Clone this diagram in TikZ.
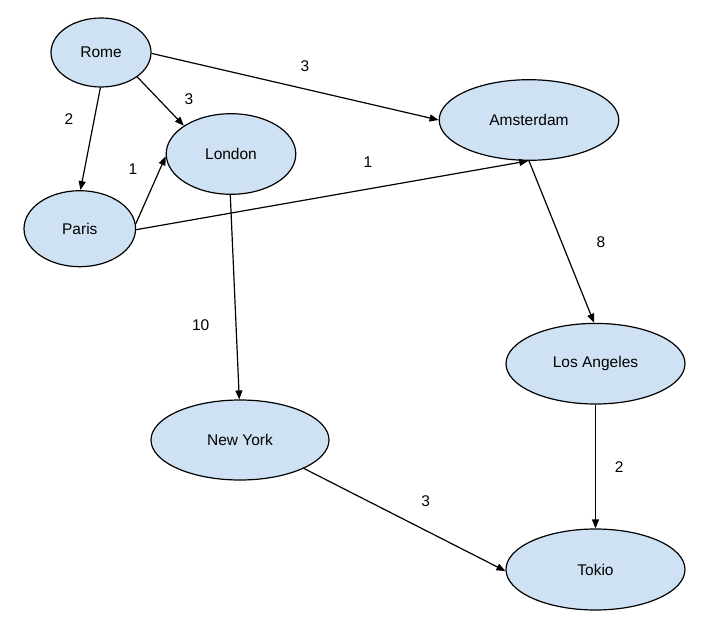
\documentclass[tikz,border=0pt]{standalone}
\usepackage{fontspec}
\setmainfont{Liberation Sans}
\usetikzlibrary{shapes.geometric,arrows.meta}
\definecolor{nodefill}{HTML}{CFE2F3}
\begin{document}
\begin{tikzpicture}[x=1pt,y=-1pt,
  city/.style={ellipse,draw=black,fill=nodefill,line width=1.2pt,inner sep=0pt,
    font=\fontsize{15.5}{18}\selectfont},
  wlabel/.style={inner sep=0pt,font=\fontsize{15.5}{18}\selectfont},
  edge/.style={line width=1.2pt,-{Triangle[length=9pt,width=7pt]}}]
\useasboundingbox (0,0) rectangle (710,624);
\node[city,minimum width=100pt,minimum height=69pt] (rome) at (101,52.5) {Rome};
\node[city,minimum width=111.6pt,minimum height=76pt] (paris) at (79.8,228.7) {Paris};
\node[city,minimum width=129.6pt,minimum height=80.6pt] (london) at (231,154) {London};
\node[city,minimum width=179.6pt,minimum height=80.6pt] (ams) at (529,120) {Amsterdam};
\node[city,minimum width=179pt,minimum height=80.6pt] (la) at (595.5,363.7) {Los Angeles};
\node[city,minimum width=178pt,minimum height=80pt] (ny) at (240,440) {New York};
\node[city,minimum width=179pt,minimum height=81pt] (tokio) at (595.5,569.5) {Tokio};

\draw[edge] (rome.-91) -- (paris.89);
\draw[edge] (rome.-34) -- (london.149);
\draw[edge] (rome.-1) -- (ams.180);
\draw[edge] (paris.5) -- (london.182);
\draw[edge] (paris.-1) -- (ams.-91);
\draw[edge] (london.-91) -- (ny.91);
\draw[edge] (ams.-90) -- (la.92);
\draw[edge] (la.-90) -- (tokio.90);
\draw[edge] (ny.-24) -- (tokio.181);

\node[wlabel] (w1) at (69,119) {2};
\node[wlabel] (w2) at (189,99) {3};
\node[wlabel] (w3) at (305,66) {3};
\node[wlabel] (w4) at (133,169) {1};
\node[wlabel] (w5) at (368,162) {1};
\node[wlabel] (w6) at (200.7,325) {10};
\node[wlabel] (w7) at (601,241.7) {8};
\node[wlabel] (w8) at (619.3,466.7) {2};
\node[wlabel] (w9) at (425.7,500.7) {3};
\end{tikzpicture}
\end{document}
